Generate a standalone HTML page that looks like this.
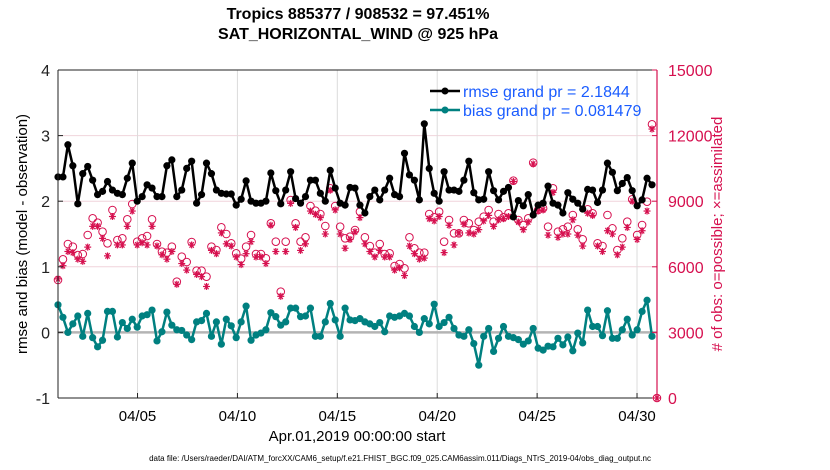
<!DOCTYPE html>
<html><head><meta charset="utf-8"><style>
body{margin:0;background:#fff;}
svg{display:block;font-family:"Liberation Sans",sans-serif;}
</style></head><body>
<svg id="chart" width="830" height="470" viewBox="0 0 830 470" xmlns="http://www.w3.org/2000/svg">
<rect width="830" height="470" fill="#fff"/>
<g id="grid"></g>
<g id="obs"></g>
<g id="lines"></g>
<g id="axes"></g>
<text x="358" y="19" text-anchor="middle" font-size="16" font-weight="bold">Tropics 885377 / 908532 = 97.451%</text>
<text x="358" y="39" text-anchor="middle" font-size="16" font-weight="bold">SAT_HORIZONTAL_WIND @ 925 hPa</text>
<text transform="translate(27,234) rotate(-90)" text-anchor="middle" font-size="15">rmse and bias (model - observation)</text>
<text transform="translate(722,234) rotate(-90)" text-anchor="middle" font-size="15" fill="#d6104f"># of obs: o=possible; ×=assimilated</text>
<text x="357" y="441" text-anchor="middle" font-size="15">Apr.01,2019 00:00:00 start</text>
<text x="400" y="461" text-anchor="middle" font-size="8">data file: /Users/raeder/DAI/ATM_forcXX/CAM6_setup/f.e21.FHIST_BGC.f09_025.CAM6assim.011/Diags_NTrS_2019-04/obs_diag_output.nc</text>
<g>
<line x1="430" y1="91" x2="460" y2="91" stroke="#000" stroke-width="2.5"/>
<circle cx="445" cy="91" r="3.5" fill="#000"/>
<text x="463" y="97" font-size="16" fill="#1a5cff">rmse grand pr = 2.1844</text>
<line x1="430" y1="110" x2="460" y2="110" stroke="#008080" stroke-width="2.5"/>
<circle cx="445" cy="110" r="3.5" fill="#008080"/>
<text x="463" y="116" font-size="16" fill="#1a5cff">bias grand pr = 0.081479</text>
</g>
</svg>
<script>
const rmse=[2.37,2.37,2.86,2.54,1.96,2.42,2.53,2.32,2.10,2.15,2.30,2.17,2.12,2.10,2.35,2.58,2.0,2.07,2.25,2.2,2.07,2.07,2.54,2.63,2.07,2.17,2.50,2.61,1.97,2.10,2.58,2.42,2.17,2.12,2.11,2.11,1.94,2.03,2.31,2.0,1.97,
1.97,2.0,2.43,2.16,1.96,2.17,2.45,2.04,1.97,2.07,2.32,2.32,2.12,2.0,2.47,2.2,1.97,1.94,2.21,2.2,1.94,1.82,2.07,2.17,2.02,2.17,2.35,2.1,2.07,2.73,2.40,2.32,2.02,3.18,2.50,2.12,2.0,2.45,2.17,2.17,2.15,
2.32,2.61,2.13,2.02,2.03,2.45,2.16,2.02,2.15,2.21,1.76,2.01,1.93,2.10,1.79,1.94,1.97,2.23,1.97,1.94,1.82,2.13,2.03,1.97,1.88,2.18,2.17,1.98,2.17,2.58,2.44,2.16,2.27,2.36,2.16,1.93,2.02,2.35,2.25];
const bias=[0.42,0.23,0.0,0.13,0.25,-0.06,0.29,-0.08,-0.22,-0.12,0.32,0.32,-0.07,0.15,0.06,0.20,0.08,0.25,0.27,0.34,-0.13,0.01,0.31,0.11,0.04,0.03,-0.04,-0.11,0.16,0.18,0.29,-0.06,0.16,-0.18,0.20,0.10,-0.08,0.16,0.40,-0.12,-0.04,
-0.01,0.04,0.30,0.24,0.11,0.16,0.37,0.37,0.24,0.25,0.37,-0.06,-0.06,0.16,0.44,0.19,-0.06,0.37,0.19,0.18,0.21,0.16,0.13,0.09,0.15,0.01,0.25,0.23,0.25,0.29,0.25,0.09,0.0,0.21,0.13,0.43,0.09,0.15,0.23,0.06,-0.04,
-0.06,0.04,-0.17,-0.50,-0.06,0.06,-0.29,-0.09,0.09,-0.06,-0.08,-0.11,-0.18,-0.13,0.06,-0.24,-0.27,-0.21,-0.22,-0.09,-0.19,-0.07,-0.28,-0.01,-0.16,0.34,0.09,0.09,-0.05,0.33,-0.09,-0.09,0.04,0.20,-0.04,0.04,0.32,0.49,-0.06];
const possible=[5396,6342,7042,6920,6539,6585,7454,8216,8018,7607,7073,8597,7226,7302,8171,8871,7150,7302,7409,8171,7042,6692,6646,6920,5320,6463,6220,7134,5823,5823,5549,6920,6768,7805,7500,7073,6615,6372,6920,7454,6585,
6585,6388,7988,7150,4862,7150,9055,7988,7150,7347,8780,8567,8414,7866,9588,8780,7835,7302,7378,7683,8521,7347,6951,6646,7042,6585,6615,6036,6128,5930,7347,6844,6646,6646,8414,8262,8521,7150,8140,7530,
7530,8140,7988,7683,8064,8293,8597,8064,8414,8262,8445,9939,8140,7912,8216,10762,8597,8673,7835,9588,7607,7713,7835,8369,7713,7256,8628,8445,7073,6951,8369,7758,6768,7302,8064,9085,7454,7912,8978,12516,0];
const assimilated=[5450,6050,6700,6650,6350,6250,6900,7850,7850,7300,6500,8300,7000,7000,7850,8550,7000,7100,7000,7850,6950,6550,6350,6700,5200,6150,5850,7000,5650,5550,5100,6750,6600,7550,7050,6950,6450,6100,6600,7150,6450,
6450,6150,7900,6700,4650,6700,8900,7800,6750,7050,8550,8400,8250,7500,9500,8600,7500,6850,7250,7600,8250,7050,6700,6450,6750,6450,6450,5850,5950,5600,6950,6600,6350,6400,8200,8100,8300,6650,7900,7000,
7550,7950,7550,7500,7700,8100,8350,7850,8150,8200,8300,9900,8050,7700,8050,10700,8550,8600,7450,9400,7350,7500,7500,8150,7450,6950,8450,8350,6950,6700,7650,7500,6550,6900,7800,9000,7250,7650,8550,12300,0];
const leftTicks=[4,3,2,1,0,-1];
const rightTicks=[15000,12000,9000,6000,3000,0];
const xTickDays=[5,10,15,20,25,30];
const xTickLabels=["04/05","04/10","04/15","04/20","04/25","04/30"];

const NS="http://www.w3.org/2000/svg";
const L=58,R=657,T=70,B=398;
const xIdx=i=>58+i*(594/120);
const xDay=d=>57.6+(d-1)*19.98;
const yL=v=>T+(4-v)*(B-T)/5;
const yR=v=>B-v*(B-T)/15000;
function mk(tag,attrs,parent){const e=document.createElementNS(NS,tag);for(const k in attrs)e.setAttribute(k,attrs[k]);parent.appendChild(e);return e;}
const grid=document.getElementById('grid'),axes=document.getElementById('axes'),obs=document.getElementById('obs'),lines=document.getElementById('lines');

rightTicks.forEach(v=>{const g=mk('line',{x1:L,x2:R,y1:yR(v),y2:yR(v),stroke:'#f0d4dc','stroke-width':1},grid);

});
xTickDays.forEach((d,i)=>{const g=mk('line',{x1:xDay(d),x2:xDay(d),y1:T,y2:B,stroke:'#dcdcdc','stroke-width':1},grid);


const t=mk('text',{x:xDay(d),y:421,'text-anchor':'middle','font-size':15},axes);t.textContent=xTickLabels[i];


mk('line',{x1:xDay(d),x2:xDay(d),y1:B,y2:B-5,stroke:'#222'},axes);});
const z=mk('line',{x1:L,x2:R,y1:yL(0),y2:yL(0),stroke:'#b4b4b4','stroke-width':2.5},grid);



possible.forEach((v,i)=>{const c=mk('circle',{cx:xIdx(i),cy:yR(v),r:3.8,fill:'none',stroke:'#d6104f','stroke-width':1},obs);

});
assimilated.forEach((v,i)=>{const x=xIdx(i),y=yR(v),s=3.5;const g=mk('g',{stroke:'#d6104f','stroke-width':1.2},obs);


mk('line',{x1:x-s,x2:x+s,y1:y,y2:y},g);mk('line',{x1:x-s*0.6,x2:x+s*0.6,y1:y-s*0.8,y2:y+s*0.8},g);mk('line',{x1:x-s*0.6,x2:x+s*0.6,y1:y+s*0.8,y2:y-s*0.8},g);mk('line',{x1:x,x2:x,y1:y-s,y2:y+s},g);});

function series(arr,color,name){const p=mk('polyline',{points:arr.map((v,i)=>xIdx(i)+','+yL(v)).join(' '),fill:'none',stroke:color,'stroke-width':2.5,'stroke-linejoin':'round'},lines);


arr.forEach((v,i)=>{const c=mk('circle',{cx:xIdx(i),cy:yL(v),r:3.6,fill:color},lines);

});}
series(rmse,'#000','rmse');
series(bias,'#008080','bias');

mk('line',{x1:L,x2:R,y1:T,y2:T,stroke:'#222','stroke-width':1},axes);
mk('line',{x1:L,x2:R,y1:B,y2:B,stroke:'#222','stroke-width':1},axes);
mk('line',{x1:L,x2:L,y1:T,y2:B,stroke:'#222','stroke-width':1},axes);
mk('line',{x1:R,x2:R,y1:T,y2:B,stroke:'#d6104f','stroke-width':1.2},axes);
leftTicks.forEach(v=>{mk('line',{x1:L,x2:L+5,y1:yL(v),y2:yL(v),stroke:'#222'},axes);
const t=mk('text',{x:L-8,y:yL(v)+6,'text-anchor':'end','font-size':16,fill:'#222'},axes);t.textContent=v;

});
rightTicks.forEach(v=>{mk('line',{x1:R,x2:R-5,y1:yR(v),y2:yR(v),stroke:'#d6104f'},axes);
const t=mk('text',{x:R+11,y:yR(v)+6,'font-size':16,fill:'#d6104f'},axes);t.textContent=v;

});
</script>
</body></html>
